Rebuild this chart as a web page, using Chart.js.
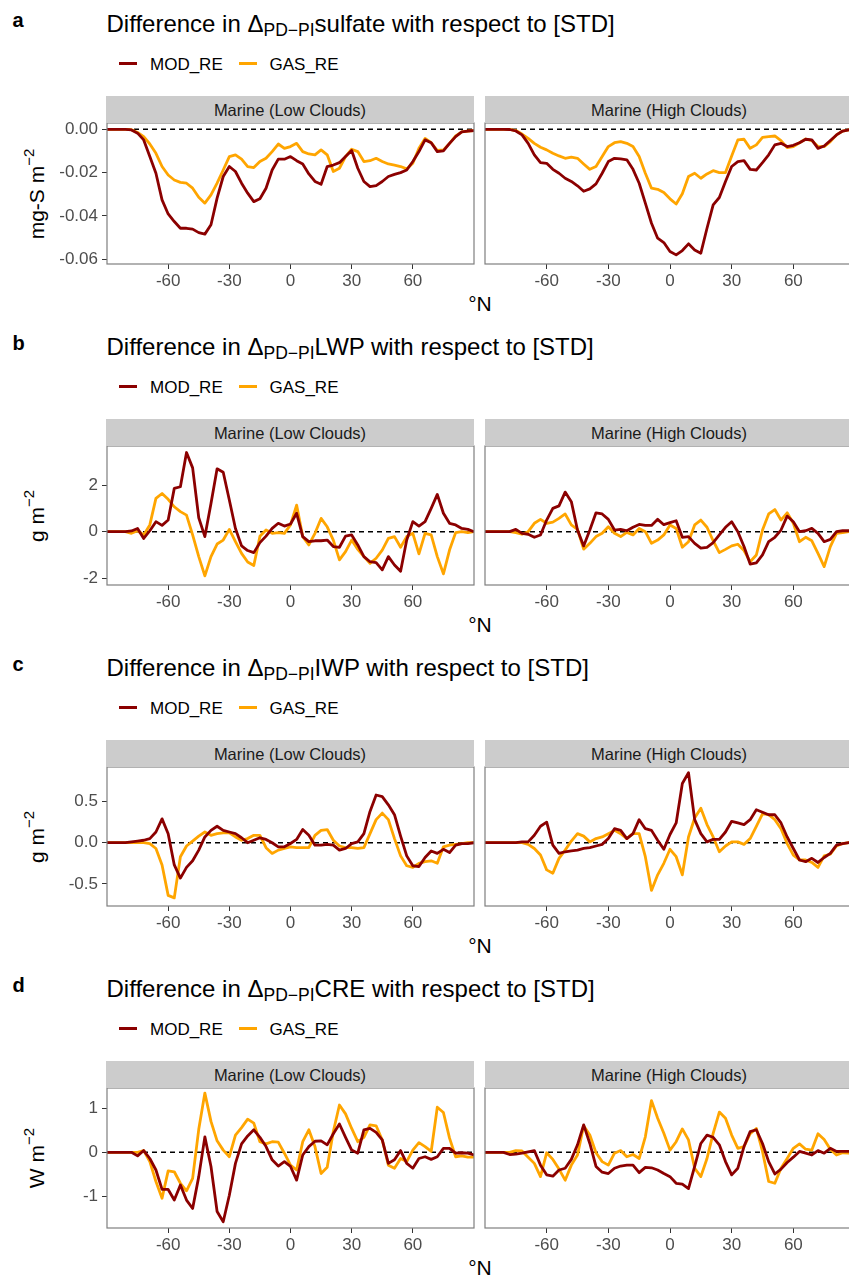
<!DOCTYPE html>
<html><head><meta charset="utf-8">
<script src="https://cdn.jsdelivr.net/npm/chart.js@4.4.1/dist/chart.umd.min.js"></script>
<style>
html,body{margin:0;padding:0;width:849px;height:1277px;overflow:hidden;background:#fff;font-family:"Liberation Sans",Arial,sans-serif;}
#root{position:relative;width:849px;height:1277px;overflow:hidden;}
.abs{position:absolute;white-space:nowrap;}
.tag{font-weight:bold;font-size:20px;line-height:20px;color:#000;}
.title{font-size:24px;line-height:24px;color:#000;}
.title .sub{font-size:17.5px;position:relative;top:4px;}
.legline{position:absolute;height:3px;}
.legtext{font-size:17px;line-height:17px;color:#000;}
.strip{background:#cccccc;color:#1a1a1a;font-size:16.5px;line-height:29px;text-align:center;height:27px;}
.ytitle{font-size:21px;line-height:21px;color:#000;transform:translate(-50%,-50%) rotate(-90deg);}
.ytitle sup{font-size:15px;position:relative;top:-2px;}
.xtitle{font-size:21px;line-height:21px;color:#000;transform:translateX(-50%);}
canvas{position:absolute;}
</style></head>
<body><div id="root"></div>
<script>
// ---------------- DATA ----------------
const lat = [-90,-87,-84,-81,-78,-75,-72,-69,-66,-63,-60,-57,-54,-51,-48,-45,-42,-39,-36,-33,-30,-27,-24,-21,-18,-15,-12,-9,-6,-3,0,3,6,9,12,15,18,21,24,27,30,33,36,39,42,45,48,51,54,57,60,63,66,69,72,75,78,81,84,87,90];

const seriesNames = ['MOD_RE','GAS_RE'];
const panelNames = ['Marine (Low Clouds)','Marine (High Clouds)'];
const rowTags = ['a','b','c','d'];
const rowVars = ['sulfate','LWP','IWP','CRE'];
const yUnits = ['mg-S m','g m','g m','W m'];

const xTicks = [-60,-30,0,30,60];
const xTickLabels = ['-60','-30','0','30','60'];

const yTicksSulfate = [0,-0.02,-0.04,-0.06];
const yTickLabelsSulfate = ['0.00','-0.02','-0.04','-0.06'];
const yTicksLWP = [2,0,-2];
const yTickLabelsLWP = ['2','0','-2'];
const yTicksIWP = [0.5,0,-0.5];
const yTickLabelsIWP = ['0.5','0.0','-0.5'];
const yTicksCRE = [1,0,-1];
const yTickLabelsCRE = ['1','0','-1'];

const yRangeSulfate = [-0.0622, 0.0029];
const yRangeLWP = [-2.29, 3.68];
const yRangeIWP = [-0.769, 0.92];
const yRangeCRE = [-1.712, 1.455];

// (a) sulfate
const sulfateLowMOD = [0,0,0,0,-0.0003,-0.0018,-0.0049,-0.0126,-0.0203,-0.0326,-0.0391,-0.0426,-0.0457,-0.0457,-0.0461,-0.0477,-0.0484,-0.0441,-0.0318,-0.0218,-0.0172,-0.0195,-0.0249,-0.0295,-0.0334,-0.0321,-0.0272,-0.0188,-0.0138,-0.0138,-0.0126,-0.0145,-0.016,-0.0206,-0.0241,-0.0254,-0.0172,-0.0165,-0.0154,-0.0126,-0.0098,-0.018,-0.0241,-0.0265,-0.026,-0.0241,-0.0218,-0.0208,-0.02,-0.0188,-0.0149,-0.0103,-0.0049,-0.0062,-0.0103,-0.01,-0.0065,-0.0034,-0.0012,-0.0008,-0.0006];
const sulfateLowGAS = [0,0,0,0,-0.0002,-0.0015,-0.0034,-0.0068,-0.0111,-0.0172,-0.0211,-0.0234,-0.0245,-0.0249,-0.0272,-0.0314,-0.0341,-0.0303,-0.0249,-0.0188,-0.0126,-0.0118,-0.0138,-0.0172,-0.0177,-0.0149,-0.0134,-0.0103,-0.0068,-0.0088,-0.008,-0.0065,-0.0103,-0.0114,-0.0118,-0.0095,-0.0118,-0.0195,-0.018,-0.0126,-0.0092,-0.0103,-0.0149,-0.0145,-0.0134,-0.0149,-0.016,-0.0165,-0.0172,-0.0183,-0.0157,-0.0088,-0.0042,-0.0062,-0.0098,-0.0095,-0.0065,-0.0031,-0.0012,-0.0008,-0.0006];
const sulfateHighMOD = [0,0,0,0,-0.0001,-0.0008,-0.0026,-0.0065,-0.0118,-0.0154,-0.0157,-0.0185,-0.0203,-0.0226,-0.0241,-0.0261,-0.0286,-0.0275,-0.0252,-0.0203,-0.0149,-0.0134,-0.0137,-0.0141,-0.0185,-0.0249,-0.0341,-0.0434,-0.0503,-0.0523,-0.0564,-0.058,-0.056,-0.0529,-0.0557,-0.0572,-0.0457,-0.0349,-0.0315,-0.0241,-0.0172,-0.0149,-0.0145,-0.0185,-0.0188,-0.0154,-0.0118,-0.0072,-0.0065,-0.008,-0.0074,-0.0062,-0.0046,-0.0049,-0.0088,-0.0077,-0.0052,-0.0026,-0.0008,-0.0003,-0.0003];
const sulfateHighGAS = [0,0,0,0,0,-0.0006,-0.0022,-0.0042,-0.0065,-0.0083,-0.0095,-0.0111,-0.0123,-0.0134,-0.0129,-0.0134,-0.016,-0.0185,-0.0172,-0.0126,-0.008,-0.0062,-0.0057,-0.0065,-0.008,-0.0126,-0.0203,-0.0272,-0.0277,-0.0292,-0.0321,-0.0345,-0.0298,-0.0218,-0.0203,-0.0226,-0.0206,-0.0191,-0.02,-0.02,-0.0123,-0.0049,-0.0046,-0.0088,-0.0072,-0.0037,-0.0034,-0.0031,-0.0052,-0.0085,-0.008,-0.0062,-0.0045,-0.0052,-0.008,-0.008,-0.0057,-0.0026,-0.0008,-0.0003,-0.0003];

// (b) LWP
const lwpLowMOD = [0,0,0,0,0.03,0.14,-0.29,0.04,0.43,0.27,0.5,1.86,1.93,3.4,2.74,0.6,-0.21,1.21,2.7,2.55,1.36,0.14,-0.61,-0.81,-0.9,-0.47,-0.19,0.14,0.36,0.24,0.33,0.79,-0.21,-0.43,-0.39,-0.39,-0.36,-0.64,-0.67,-0.19,-0.14,-0.57,-1.07,-1.29,-1.33,-1.64,-1.07,-1.43,-1.7,-0.36,0.43,0.24,0.43,1.0,1.6,0.79,0.36,0.29,0.14,0.1,0];
const lwpLowGAS = [0,0,0,0,-0.07,0.04,-0.14,0.29,1.43,1.64,1.39,1.07,0.86,0.71,-0.14,-1.07,-1.9,-1.07,-0.53,-0.36,0.1,-0.43,-0.93,-1.3,-1.45,-0.2,0.07,-0.07,-0.04,-0.07,0.29,1.14,-0.21,-0.57,-0.07,0.57,0.21,-0.36,-1.21,-0.86,-0.36,-0.76,-1.07,-1.36,-1.14,-0.79,-0.29,-0.21,-0.67,-0.21,-0.07,-0.95,-0.07,-0.14,-1.07,-1.81,-0.79,-0.04,0,-0.04,0];
const lwpHighMOD = [0,0,0,0,0,0.1,-0.07,-0.11,-0.24,-0.14,0.5,1.0,1.11,1.7,1.29,0.07,-0.61,0.07,0.81,0.76,0.53,0.07,0.1,0.04,0.19,0.31,0.27,0.27,0.53,0.3,0.39,0.47,-0.24,-0.21,-0.5,-0.71,-0.67,-0.47,-0.14,0.19,0.43,0,-0.64,-1.39,-1.34,-1.0,-0.43,-0.24,0.07,0.67,0.43,0,0.04,0.14,-0.07,-0.43,-0.33,0,0.04,0.04,0.04];
const lwpHighGAS = [0,0,0,0,0,-0.04,-0.11,0,0.36,0.53,0.36,0.41,0.57,0.76,0.29,0.1,-0.75,-0.5,-0.21,-0.07,0.21,-0.07,-0.21,-0.03,-0.14,0.14,0,-0.5,-0.36,-0.14,0.29,0.14,-0.67,-0.43,0.29,0.5,0.19,-0.39,-0.9,-0.76,-0.61,-0.54,-0.81,-1.29,-1.0,0.07,0.76,0.95,0.5,0.81,0.36,-0.43,-0.24,-0.39,-0.93,-1.5,-0.64,-0.07,-0.04,0,0];

// (c) IWP
const iwpLowMOD = [0,0,0,0,0.01,0.02,0.03,0.05,0.13,0.29,0.11,-0.27,-0.43,-0.3,-0.22,-0.09,0.07,0.15,0.2,0.15,0.13,0.11,0.06,0,0.03,0.06,0.04,0,-0.05,-0.05,-0.01,0.04,0.16,0.09,-0.03,-0.03,-0.02,-0.03,-0.09,-0.07,-0.01,0.01,0.11,0.38,0.58,0.56,0.46,0.34,0.08,-0.16,-0.28,-0.29,-0.18,-0.1,-0.13,-0.08,-0.12,-0.03,-0.01,-0.01,0];
const iwpLowGAS = [0,0,0,0,0,0,0,-0.01,-0.07,-0.27,-0.64,-0.67,-0.17,-0.04,0.02,0.08,0.13,0.09,0.11,0.12,0.12,0.07,0.03,0.05,0.09,0.09,-0.06,-0.13,-0.09,-0.07,-0.05,-0.06,-0.06,-0.06,0.09,0.15,0.16,0.03,-0.04,-0.06,-0.06,-0.07,-0.06,0.11,0.28,0.36,0.28,0.05,-0.16,-0.28,-0.3,-0.25,-0.23,-0.22,-0.25,-0.05,-0.03,-0.02,-0.01,0,0];
const iwpHighMOD = [0,0,0,0,0,0,0.01,0.01,0.09,0.2,0.25,-0.03,-0.13,-0.11,-0.1,-0.09,-0.07,-0.06,-0.04,-0.02,0.05,0.17,0.15,0.05,0.11,0.28,0.17,0.15,0.03,-0.08,0.1,0.24,0.72,0.85,0.28,0.11,0.01,0.04,0.04,0.13,0.26,0.24,0.22,0.28,0.4,0.37,0.34,0.34,0.24,0.07,-0.07,-0.21,-0.23,-0.19,-0.24,-0.18,-0.13,-0.03,-0.01,0,0];
const iwpHighGAS = [0,0,0,0,0,0,0,-0.02,-0.07,-0.15,-0.33,-0.37,-0.19,-0.09,0.02,0.11,0.08,0.01,0.05,0.07,0.11,0.15,0.11,0.05,0.11,0.11,-0.17,-0.58,-0.39,-0.25,-0.08,-0.17,-0.39,0.07,0.3,0.42,0.22,0.07,-0.11,-0.04,0.01,0.01,-0.02,0.05,0.2,0.35,0.34,0.28,0.17,-0.01,-0.15,-0.21,-0.21,-0.24,-0.3,-0.16,-0.14,-0.04,-0.01,0,0];

// (d) CRE
const creLowMOD = [0,0,0,0,0,-0.08,0.04,-0.14,-0.4,-0.84,-0.84,-1.08,-0.74,-1.08,-1.27,-0.55,0.35,-0.32,-1.34,-1.57,-0.97,-0.25,0.19,0.37,0.51,0.34,0.13,-0.17,-0.31,-0.21,-0.32,-0.63,-0.06,0.13,0.25,0.26,0.17,0.42,0.64,0.34,0.05,-0.02,0.51,0.54,0.45,0.28,-0.25,-0.17,0.04,-0.25,-0.36,-0.14,-0.1,-0.16,-0.1,0.09,0.09,-0.02,-0.01,-0.02,-0.06];
const creLowGAS = [0,0,0,0,0,0,0.04,-0.21,-0.66,-1.04,-0.42,-0.44,-0.7,-0.87,-0.59,0.52,1.34,0.7,0.26,0.05,-0.1,0.39,0.56,0.75,0.66,0.24,0.19,0.24,0.23,-0.02,-0.29,-0.4,0.24,0.51,0.13,-0.48,-0.34,0.47,1.07,0.87,0.54,0.24,0.34,0.62,0.6,0.28,-0.29,-0.36,-0.14,-0.21,0.05,0.22,0.13,0.02,1.02,0.9,0.32,-0.1,-0.08,-0.11,-0.11];
const creHighMOD = [0,0,0,0,-0.05,-0.04,-0.02,0.01,0.04,-0.29,-0.51,-0.54,-0.4,-0.36,-0.16,0.17,0.62,0.2,-0.32,-0.45,-0.48,-0.36,-0.31,-0.29,-0.29,-0.46,-0.34,-0.35,-0.4,-0.48,-0.55,-0.7,-0.72,-0.82,-0.32,0.2,0.39,0.34,0.17,-0.21,-0.51,-0.36,0.13,0.47,0.51,0.2,-0.21,-0.49,-0.38,-0.23,-0.11,0.02,-0.02,-0.06,0.04,-0.02,0.09,0.02,0.02,0.02,0.02];
const creHighGAS = [0,0,0,0,0,0.04,0.03,-0.11,-0.25,-0.55,-0.01,-0.16,-0.38,-0.63,-0.29,-0.06,0.6,0.39,-0.01,-0.21,-0.29,-0.02,0.04,-0.1,-0.05,-0.14,0.35,1.17,0.77,0.43,0.05,0.24,0.53,0.28,-0.36,-0.55,-0.14,0.43,0.91,0.77,0.39,0.09,0.13,0.42,0.54,0.02,-0.66,-0.7,-0.36,-0.14,0.09,0.19,0.07,0.05,0.42,0.29,0.07,-0.06,-0.01,-0.02,-0.04];

// ---------------- BUILD ----------------
Chart.defaults.font.family = '"Liberation Sans", Arial, sans-serif';

const rows = [
  {top:123, h:141, ticks:yTicksSulfate, labels:yTickLabelsSulfate, range:yRangeSulfate, series:[[sulfateLowMOD,sulfateLowGAS],[sulfateHighMOD,sulfateHighGAS]]},
  {top:446, h:139, ticks:yTicksLWP, labels:yTickLabelsLWP, range:yRangeLWP, series:[[lwpLowMOD,lwpLowGAS],[lwpHighMOD,lwpHighGAS]]},
  {top:767, h:139, ticks:yTicksIWP, labels:yTickLabelsIWP, range:yRangeIWP, series:[[iwpLowMOD,iwpLowGAS],[iwpHighMOD,iwpHighGAS]]},
  {top:1088, h:140, ticks:yTicksCRE, labels:yTickLabelsCRE, range:yRangeCRE, series:[[creLowMOD,creLowGAS],[creHighMOD,creHighGAS]]}
];
const colors = ['#8b0000','#ffa500'];
const root = document.getElementById('root');

function el(cls, left, top, html, extra){
  const d = document.createElement('div');
  d.className = 'abs ' + cls;
  d.style.left = left + 'px'; d.style.top = top + 'px';
  if (html !== undefined) d.innerHTML = html;
  if (extra) Object.assign(d.style, extra);
  root.appendChild(d); return d;
}

const panelDecor = {
  id:'panelDecor',
  beforeDatasetsDraw(chart){
    const {ctx, chartArea:a, scales:{y}} = chart;
    const y0 = y.getPixelForValue(0);
    ctx.save(); ctx.setLineDash([5,4]); ctx.strokeStyle='#000000'; ctx.lineWidth=1.5;
    ctx.beginPath(); ctx.moveTo(a.left,y0); ctx.lineTo(a.right,y0); ctx.stroke(); ctx.restore();
  },
  afterDatasetsDraw(chart){
    const {ctx, chartArea:a} = chart;
    ctx.save(); ctx.strokeStyle='#7f7f7f'; ctx.lineWidth=1.2;
    ctx.strokeRect(a.left, a.top, a.right-a.left, a.bottom-a.top); ctx.restore();
  }
};

const PT = 18, XH = 50;
const panels = [{left:0, width:476, padL:0, padR:2, yw:107, showY:true, stripL:106, stripW:368},
                {left:483, width:372, padL:2, padR:0, yw:0, showY:false, stripL:485, stripW:368}];

rows.forEach((r, ri) => {
  const T = r.top, H = r.h;
  el('tag', 12.5, T - 112.9, rowTags[ri]);
  el('title', 106.5, T - 111.3, 'Difference in \u0394<span class="sub">PD\u2212PI</span>' + rowVars[ri] + ' with respect to [STD]');
  el('legline', 119, T - 61.5, undefined, {width:'18px', background:colors[0]});
  el('legtext', 150, T - 66.7, seriesNames[0]);
  el('legline', 239, T - 61.5, undefined, {width:'18px', background:colors[1]});
  el('legtext', 269.5, T - 66.7, seriesNames[1]);
  el('ytitle', 33, T + H/2, yUnits[ri] + '<sup>\u22122</sup>');
  el('xtitle', 480, T + H + 29, '\u00b0N');

  panels.forEach((p, pi) => {
    const c = document.createElement('canvas');
    c.width = p.width; c.height = PT + H + XH;
    c.style.left = p.left + 'px'; c.style.top = (T - PT) + 'px';
    root.appendChild(c);
    el('strip', p.stripL, T - 27, panelNames[pi], {width:p.stripW + 'px'});
    const [mod, gas] = r.series[pi];
    new Chart(c, {
      type:'line',
      data:{ datasets:[
        {label:seriesNames[0], data:lat.map((x,i)=>({x, y:mod[i]})), borderColor:colors[0], borderWidth:2.8, pointRadius:0, tension:0, borderJoinStyle:'round', fill:false},
        {label:seriesNames[1], data:lat.map((x,i)=>({x, y:gas[i]})), borderColor:colors[1], borderWidth:2.8, pointRadius:0, tension:0, borderJoinStyle:'round', fill:false}
      ]},
      options:{
        responsive:false, animation:false, events:[],
        layout:{padding:{top:PT, left:p.padL, right:p.padR, bottom:0}, autoPadding:false},
        plugins:{legend:{display:false}, tooltip:{enabled:false}},
        scales:{
          x:{type:'linear', min:-90, max:90,
             afterBuildTicks:s=>{ s.ticks = xTicks.map(v=>({value:v})); },
             afterFit:s=>{ s.height = XH; },
             ticks:{callback:v=>xTickLabels[xTicks.indexOf(v)], font:{size:17}, color:'#4d4d4d', padding:2, maxRotation:0, autoSkip:false},
             grid:{drawOnChartArea:false, drawTicks:true, tickLength:5, color:'#333333', lineWidth:1},
             border:{display:false}},
          y:{type:'linear', display:p.showY, min:r.range[0], max:r.range[1],
             afterBuildTicks:s=>{ s.ticks = r.ticks.map(v=>({value:v})); },
             afterFit:s=>{ s.width = p.yw; },
             ticks:{callback:v=>r.labels[r.ticks.indexOf(v)], font:{size:17}, color:'#4d4d4d', padding:4, autoSkip:false},
             grid:{drawOnChartArea:false, drawTicks:true, tickLength:5, color:'#333333', lineWidth:1},
             border:{display:false}}
        }
      },
      plugins:[panelDecor]
    });
  });
});
</script>
</body></html>
